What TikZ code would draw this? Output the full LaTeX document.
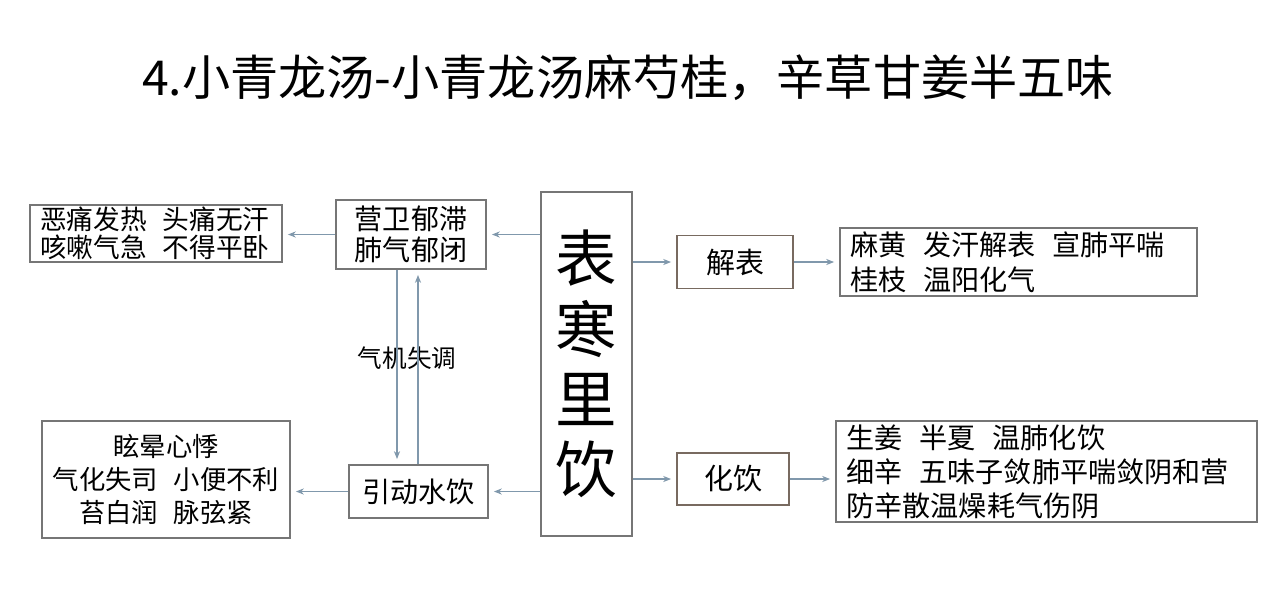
\documentclass[tikz,border=0pt]{standalone}
\usepackage{fontspec}
\setmainfont{Noto Sans CJK SC}
\usetikzlibrary{arrows.meta}
\newcommand{\gp}{\hspace{0.6em}}
\definecolor{lc}{RGB}{128,152,172}
\definecolor{bc}{RGB}{118,118,118}
\definecolor{ec}{RGB}{120,106,96}
\begin{document}
\begin{tikzpicture}[x=0.02cm,y=-0.02cm,
box/.style={draw=bc,line width=0.8pt,inner sep=0pt,align=center,font=\fontsize{16}{17}\selectfont},
lbox/.style={box,align=left,inner xsep=0.2cm,text width=#1},
arr/.style={lc,line width=0.6pt,-{Stealth[length=4.5pt,width=3.5pt]},shorten >=3pt}]
\useasboundingbox[fill=white] (0,0) rectangle (1280,610);
\node[font=\fontsize{27.4}{30}\selectfont] (title) at (628,78) {4.小青龙汤-小青龙汤麻芍桂，辛草甘姜半五味};
\node[box,minimum width=1.82cm,minimum height=6.88cm,font=\fontsize{35}{40}\selectfont] (mid) at (586.5,364) {表\\寒\\里\\饮};
\node[box,minimum width=3cm,minimum height=1.38cm,font=\fontsize{16}{17.5}\selectfont] (yw) at (411,234.5) {营卫郁滞\\肺气郁闭};
\node[lbox=4.64cm,minimum height=1.14cm,font=\fontsize{15.2}{16}\selectfont] (zz) at (156,233.5) {恶痛发热\gp 头痛无汗\\咳嗽气急\gp 不得平卧};
\node[box,minimum width=2.78cm,minimum height=1.06cm] (sy) at (418.5,491.5) {引动水饮};
\node[box,minimum width=4.96cm,minimum height=2.34cm,font=\fontsize{15}{18.7}\selectfont] (xy) at (166,479.5) {眩晕心悸\\气化失司\gp 小便不利\\苔白润\gp 脉弦紧};
\node[box,draw=ec,fill=white,minimum width=2.32cm,minimum height=1.06cm,font=\fontsize{16.5}{18}\selectfont] (jb) at (735,262) {解表};
\node[lbox=6.74cm,minimum height=1.36cm,font=\fontsize{16}{19.9}\selectfont] (mh) at (1018.5,262) {麻黄\gp 发汗解表\gp 宣肺平喘\\桂枝\gp 温阳化气};
\node[box,draw=ec,fill=white,minimum width=2.24cm,minimum height=1.04cm,font=\fontsize{16.5}{18}\selectfont] (hy) at (733,479) {化饮};
\node[lbox=8cm,minimum height=2.02cm,inner xsep=0.21cm,font=\fontsize{16}{19.3}\selectfont] (sj) at (1046.5,471.5) {生姜\gp 半夏\gp 温肺化饮\\细辛\gp 五味子敛肺平喘敛阴和营\\防辛散温燥耗气伤阴};
\node[font=\fontsize{14}{16}\selectfont] (qj) at (407,358) {气机失调};
\draw[arr] (mid.west |- yw.east) -- (yw.east);
\draw[arr] (yw.west) -- (zz.east |- yw.west);
\draw[arr] (mid.west |- sy.east) -- (sy.east);
\draw[arr] (sy.west) -- (xy.east |- sy.west);
\draw[arr] (mid.east |- jb.west) -- (jb.west);
\draw[arr] (jb.east) -- (mh.west |- jb.east);
\draw[arr] (mid.east |- hy.west) -- (hy.west);
\draw[arr] (hy.east) -- (sj.west |- hy.east);
\draw[arr] ([xshift=-0.28cm]yw.south) -- ([xshift=-0.28cm]yw.south |- sy.north);
\draw[arr] ([xshift=0.14cm]yw.south |- sy.north) -- ([xshift=0.14cm]yw.south);
\end{tikzpicture}
\end{document}
